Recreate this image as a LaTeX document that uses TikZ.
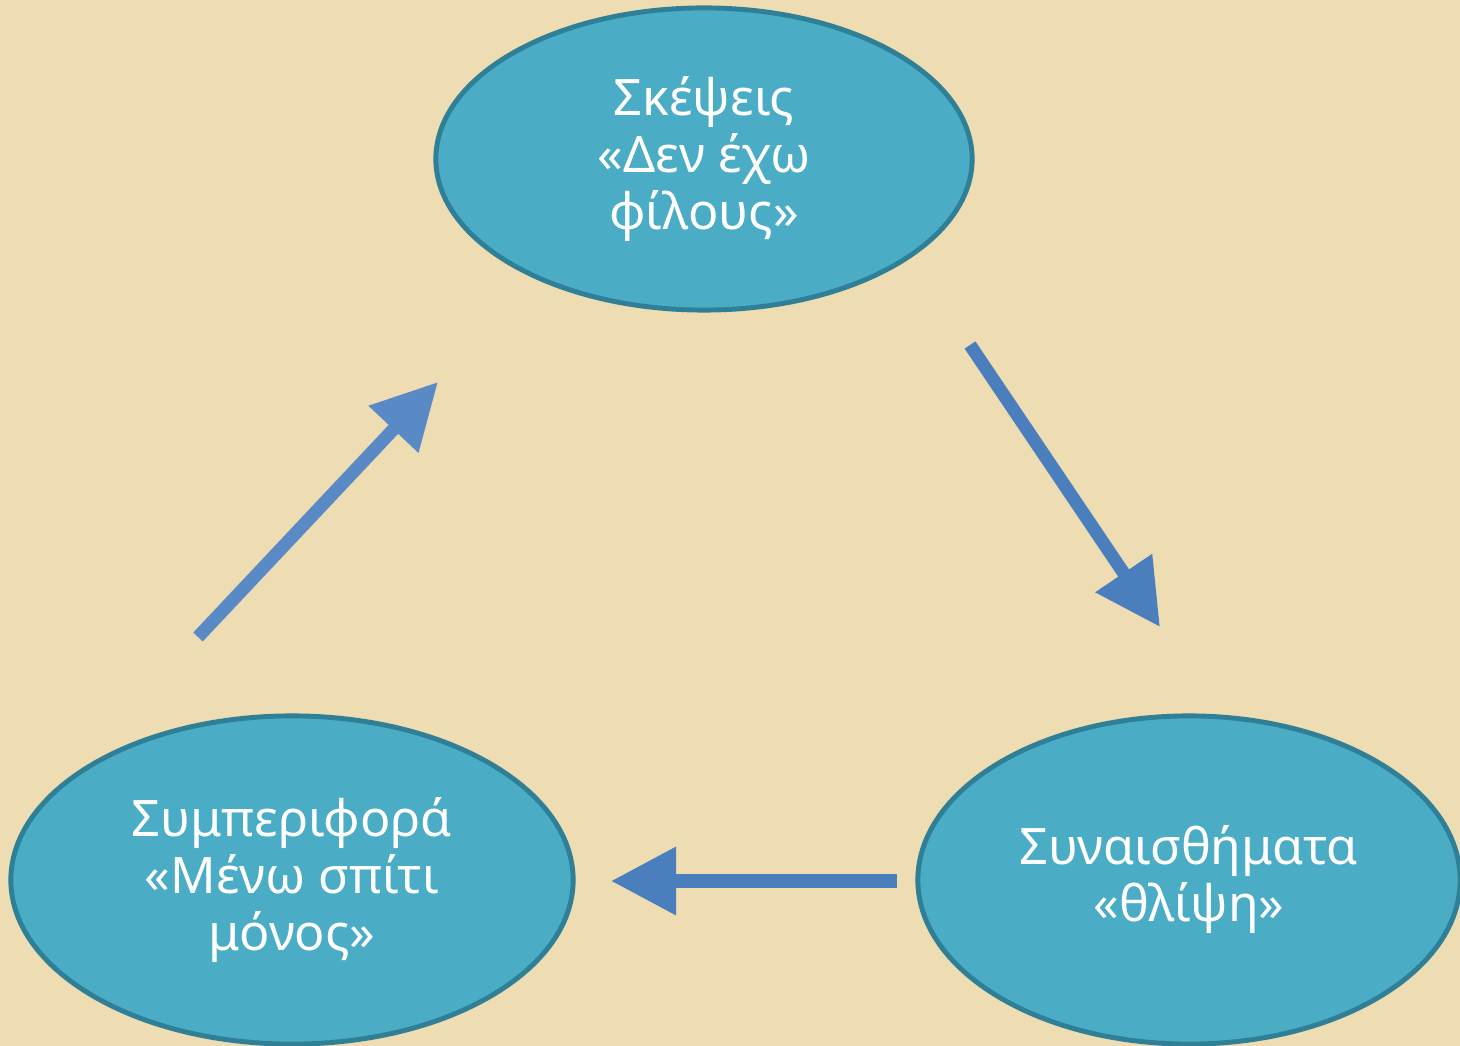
\documentclass[tikz,border=0pt]{standalone}
\usepackage{fontspec}
\setmainfont{Noto Sans}
\usetikzlibrary{arrows.meta,shapes.geometric}

\definecolor{paper}{HTML}{EEDCB2}
\definecolor{bubblefill}{HTML}{4BACC6}
\definecolor{bubbleline}{HTML}{2F7F96}
\definecolor{arrowblue}{HTML}{4A7EBC}
\definecolor{arrowpale}{HTML}{5A8AC5}

\begin{document}
\begin{tikzpicture}[x=0.01cm,y=-0.01cm]
	\tikzstyle{bubble}=[ellipse, draw=bubbleline, line width=1.4pt, fill=bubblefill, text=white, align=center, inner sep=0pt, font=\fontsize{14.3}{16.2}\selectfont]
	\tikzstyle{flow}=[draw=arrowblue, line width=3.7pt, -{Triangle[length=6.5mm,width=6.5mm]}]
	\fill[paper] (0,0) rectangle (1460,1046);
	\useasboundingbox (0,0) rectangle (1460,1046);
	% the three states
	\draw (704,159) node (thoughts) [bubble, minimum width=5.36cm, minimum height=3.02cm] {Σκέψεις\\«Δεν έχω\\φίλους»};
	\draw (1189,880) node (feelings) [bubble, minimum width=5.42cm, minimum height=3.28cm] {Συναισθήματα\\«θλίψη»};
	\draw (292,880) node (behaviour) [bubble, minimum width=5.62cm, minimum height=3.28cm] {Συμπεριφορά\\«Μένω σπίτι\\μόνος»};
	% arrow ends
	\coordinate (a1) at (970,345);
	\coordinate (b1) at (1160,627);
	\coordinate (a2) at (897,881);
	\coordinate (b2) at (611,881);
	\coordinate (a3) at (198,637);
	\coordinate (b3) at (438,382);
	\draw[flow] (a1) -- (b1);
	\draw[flow] (a2) -- (b2);
	\draw[flow, draw=arrowpale] (a3) -- (b3);
\end{tikzpicture}
\end{document}
